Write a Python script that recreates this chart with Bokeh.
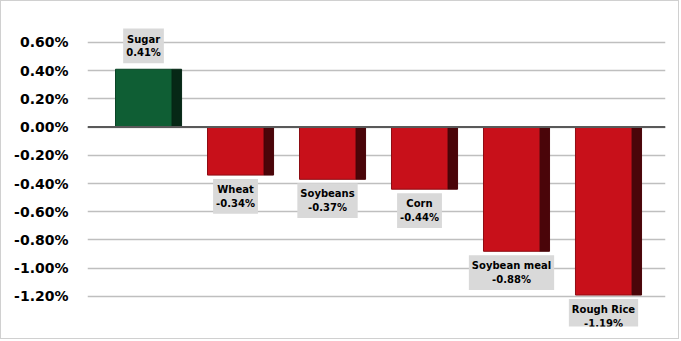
from bokeh.plotting import figure
from bokeh.models import ColumnDataSource, Range1d, FixedTicker, NumeralTickFormatter, Span
from bokeh.transform import dodge
from bokeh.core.properties import value
from bokeh.embed import file_html
from bokeh.resources import INLINE

categories = ["Sugar", "Wheat", "Soybeans", "Corn", "Soybean meal", "Rough Rice"]
changes = [0.0041, -0.0034, -0.0037, -0.0044, -0.0088, -0.0119]
y_ticks = [-0.012, -0.010, -0.008, -0.006, -0.004, -0.002, 0.0, 0.002, 0.004, 0.006]

idx = list(range(len(categories)))
face = ["#0f5e34" if v >= 0 else "#c8101a" for v in changes]
side = ["#062816" if v >= 0 else "#4a0509" for v in changes]
edge = ["#0a4426" if v >= 0 else "#8e0c13" for v in changes]
labels = [f"{c}\n{v:.2%}" for c, v in zip(categories, changes)]

src = ColumnDataSource(dict(x=idx, top=changes, face=face, side=side, edge=edge, label=labels))
pos = ColumnDataSource(dict(x=[i for i, v in zip(idx, changes) if v >= 0],
                            y=[v for v in changes if v >= 0],
                            label=[l for l, v in zip(labels, changes) if v >= 0]))
neg = ColumnDataSource(dict(x=[i for i, v in zip(idx, changes) if v < 0],
                            y=[v for v in changes if v < 0],
                            label=[l for l, v in zip(labels, changes) if v < 0]))

p = figure(width=679, height=339, output_backend="svg", toolbar_location=None,
           x_range=Range1d(-0.609, 5.674), y_range=Range1d(-0.01413, 0.00798),
           min_border_left=86, min_border_top=13, min_border_right=15, min_border_bottom=14)
p.styles = {"border": "1px solid #d0d0d0"}
p.outline_line_color = None
p.xaxis.visible = False
p.xgrid.visible = False

ax = p.yaxis[0]
ax.ticker = FixedTicker(ticks=y_ticks)
ax.formatter = NumeralTickFormatter(format="0.00%")
ax.axis_line_color = None
ax.major_tick_line_color = None
ax.minor_tick_line_color = None
ax.major_label_standoff = 13
ax.major_label_text_font = "DejaVu Sans"
ax.major_label_text_font_style = "bold"
ax.major_label_text_font_size = "14px"
ax.major_label_text_color = "#000000"

p.ygrid.ticker = FixedTicker(ticks=y_ticks)
p.ygrid.grid_line_color = "#bfbfbf"
p.ygrid.grid_line_width = 1.5

# side (depth) face of the bars
p.vbar(x=dodge("x", 0.359, range=p.x_range), bottom=0, top="top", width=0.109,
       fill_color="side", line_color="side", source=src)
# front face
p.vbar(x="x", bottom=0, top="top", width=0.609, fill_color="face", line_color="edge",
       line_width=1, source=src)

p.add_layout(Span(location=0, dimension="width", line_color="#595959", line_width=2))

common = dict(text="label", text_align="center", text_font=value("DejaVu Sans"),
              text_font_style="bold", text_font_size="10px", text_color="#000000",
              text_line_height=1.25, background_fill_color="#d9d9d9", padding=(3, 5))
p.text(x="x", y="y", anchor="bottom_center", y_offset=-6, source=pos, **common)
p.text(x="x", y="y", anchor="top_center", y_offset=4, source=neg, **common)

open("out.html", "w").write(file_html(p, INLINE))
